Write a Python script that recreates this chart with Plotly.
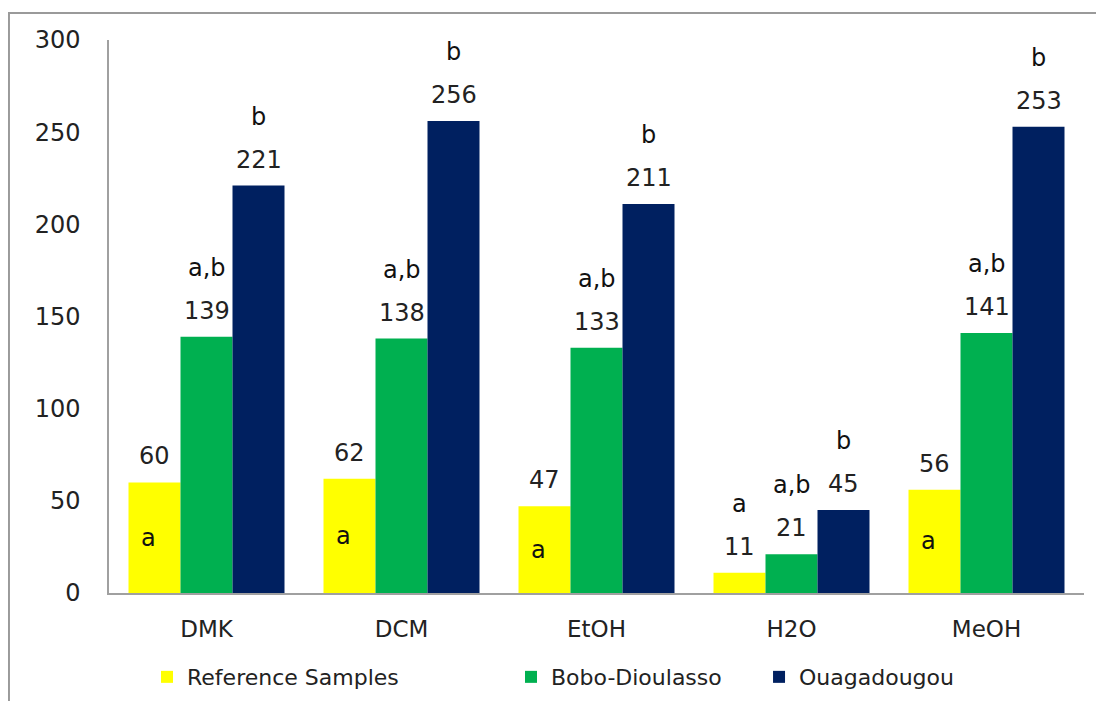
import plotly.graph_objects as go

categories = ["DMK", "DCM", "EtOH", "H2O", "MeOH"]
series_names = ["Reference Samples", "Bobo-Dioulasso", "Ouagadougou"]
ref_values = [60, 62, 47, 11, 56]
bobo_values = [139, 138, 133, 21, 141]
ouaga_values = [221, 256, 211, 45, 253]
ref_letters = ["a", "a", "a", "a", "a"]
bobo_letters = ["a,b", "a,b", "a,b", "a,b", "a,b"]
ouaga_letters = ["b", "b", "b", "b", "b"]
y_ticks = [0, 50, 100, 150, 200, 250, 300]

colors = ["#FFFF00", "#00B050", "#002060"]
values = [ref_values, bobo_values, ouaga_values]
letters = [ref_letters, bobo_letters, ouaga_letters]
legend_ids = ["legend", "legend2", "legend3"]
legend_x = [0.039, 0.4123, 0.6667]

BARGAP = 0.2
VAL_FONT = dict(family="DejaVu Sans", size=24, color="#222222")
LET_FONT = dict(family="DejaVu Sans", size=24, color="#111111")
LEG_FONT = dict(family="DejaVu Sans", size=22, color="#222222")

fig = go.Figure()
for name, vals, col, lid in zip(series_names, values, colors, legend_ids):
    fig.add_trace(go.Bar(x=categories, y=vals, name=name, legend=lid,
                         marker=dict(color=col, line=dict(width=0))))

bar_w = (1 - BARGAP) / 3
annotations = []
for s, (vals, lets) in enumerate(zip(values, letters)):
    off = (s - 1) * bar_w
    for i, (v, l) in enumerate(zip(vals, lets)):
        xpos = i + off
        annotations.append(dict(x=xpos, y=v, xref="x", yref="y", text=str(v), showarrow=False,
                                yshift=26, yanchor="middle", font=VAL_FONT))
        if s == 0 and v > 30:
            annotations.append(dict(x=xpos - 0.03, y=v / 2, xref="x", yref="y", text=l, showarrow=False,
                                    yanchor="middle", font=LET_FONT))
        else:
            annotations.append(dict(x=xpos, y=v, xref="x", yref="y", text=l, showarrow=False,
                                    yshift=69, yanchor="middle", font=LET_FONT))

legends = {}
for lid, lx in zip(legend_ids, legend_x):
    legends[lid] = dict(orientation="h", x=lx, xanchor="left", y=-0.152, yanchor="middle",
                        font=LEG_FONT, bgcolor="rgba(0,0,0,0)", borderwidth=0)

fig.update_layout(
    width=1088, height=693,
    barmode="group", bargap=BARGAP, bargroupgap=0,
    paper_bgcolor="white", plot_bgcolor="white",
    margin=dict(l=101, r=12, t=32, b=108, autoexpand=False),
    showlegend=True,
    annotations=annotations,
    shapes=[dict(type="rect", xref="paper", yref="paper", x0=-0.1026, x1=1.2, y0=-0.5, y1=1.0488,
                 line=dict(color="#9a9a9a", width=2), fillcolor="rgba(0,0,0,0)", layer="below")],
    **legends,
)
fig.update_yaxes(range=[0, 300], tickvals=y_ticks, showgrid=False, zeroline=False,
                 showline=True, linecolor="#a0a0a0", linewidth=1.5, ticks="", automargin=False,
                 ticklabelstandoff=22, tickfont=dict(family="DejaVu Sans", size=24, color="#222222"))
fig.update_xaxes(showgrid=False, showline=True, linecolor="#a0a0a0", linewidth=1.5, ticks="", automargin=False,
                 ticklabelstandoff=15, tickfont=dict(family="DejaVu Sans", size=23, color="#222222"))

fig.write_html("out.html")
